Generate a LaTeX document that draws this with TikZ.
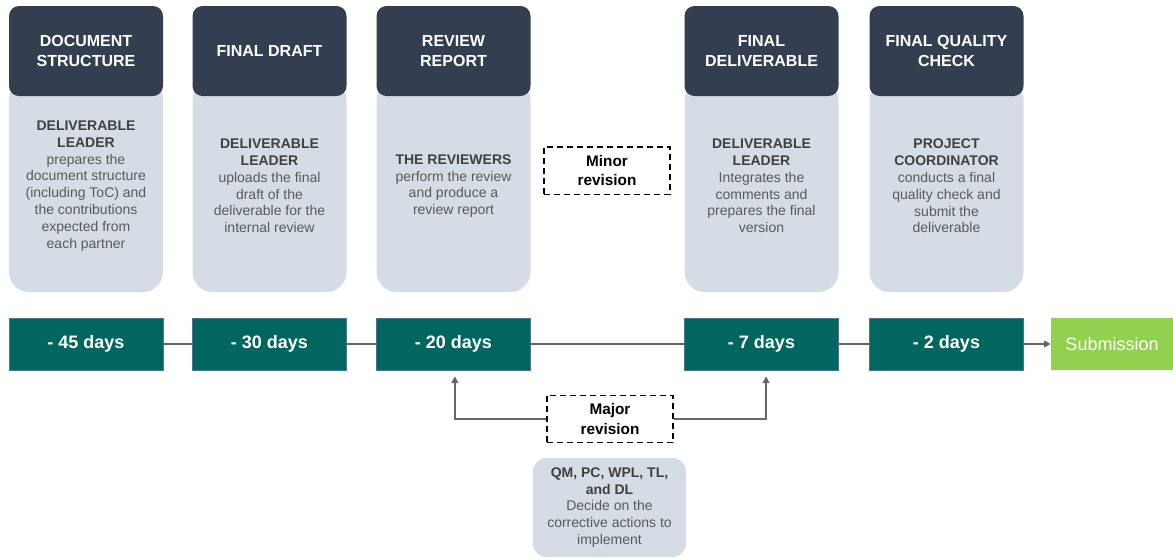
\documentclass[tikz,border=0pt]{standalone}
\usepackage{fontspec}
\setmainfont{Liberation Sans}
\usetikzlibrary{arrows.meta}
\definecolor{navy}{HTML}{333F50}
\definecolor{panel}{HTML}{D6DCE5}
\definecolor{tealbox}{HTML}{00665F}
\definecolor{tealedge}{HTML}{4A7394}
\definecolor{subgreen}{HTML}{92D050}
\definecolor{linegray}{HTML}{666666}
\definecolor{txtdark}{HTML}{404040}
\definecolor{txtmid}{HTML}{595959}
\begin{document}
\begin{tikzpicture}[x=0.75pt,y=-0.75pt,
  header/.style={fill=navy, rounded corners=7.5pt, minimum width=115.5pt, minimum height=67.5pt,
    inner sep=0pt, text=white, align=center, font=\fontsize{12}{15}\selectfont\bfseries},
  panelbox/.style={fill=panel, rounded corners=15pt, minimum width=115.5pt, minimum height=159pt,
    inner sep=0pt, align=center, text=txtmid, font=\fontsize{10.5}{12.6}\selectfont},
  daybox/.style={fill=tealbox, draw=tealedge, line width=0.5pt, minimum width=115.5pt, minimum height=39pt,
    inner sep=0pt, text=white, font=\fontsize{13.5}{16}\selectfont\bfseries},
  subbox/.style={fill=subgreen, minimum width=91.5pt, minimum height=39pt,
    inner sep=0pt, text=white, font=\fontsize{13.5}{16}\selectfont},
  revbox/.style={draw=black, dashed, dash pattern=on 4.5pt off 3pt, line width=1pt, minimum width=94.5pt, minimum height=35.5pt,
    inner sep=0pt, align=center, text=black, font=\fontsize{11.5}{14.5}\selectfont\bfseries},
  qmbox/.style={fill=panel, rounded corners=10pt, minimum width=114.75pt, minimum height=74.25pt,
    inner sep=0pt, align=center, text=txtmid, font=\fontsize{10.5}{12.6}\selectfont},
  conn/.style={draw=linegray, line width=1.5pt},
  tip/.style={-{Triangle[length=5pt,width=5pt]}}
]
\useasboundingbox (0,0) rectangle (1173,558);

% panels
\node[panelbox] (p1) at (86,186) {\textcolor{txtdark}{\bfseries DELIVERABLE}\\\textcolor{txtdark}{\bfseries LEADER}\\prepares the\\document structure\\(including ToC) and\\the contributions\\expected from\\each partner};
\node[panelbox] (p2) at (269.5,186) {\textcolor{txtdark}{\bfseries DELIVERABLE}\\\textcolor{txtdark}{\bfseries LEADER}\\uploads the final\\draft of the\\deliverable for the\\internal review};
\node[panelbox] (p3) at (453.5,186) {\textcolor{txtdark}{\bfseries THE REVIEWERS}\\perform the review\\and produce a\\review report};
\node[panelbox] (p4) at (761.5,186) {\textcolor{txtdark}{\bfseries DELIVERABLE}\\\textcolor{txtdark}{\bfseries LEADER}\\Integrates the\\comments and\\prepares the final\\version};
\node[panelbox] (p5) at (946.5,186) {\textcolor{txtdark}{\bfseries PROJECT}\\\textcolor{txtdark}{\bfseries COORDINATOR}\\conducts a final\\quality check and\\submit the\\deliverable};

% headers
\node[header] (h1) at (86,51) {DOCUMENT\\STRUCTURE};
\node[header] (h2) at (269.5,51) {FINAL DRAFT};
\node[header] (h3) at (453.5,51) {REVIEW\\REPORT};
\node[header] (h4) at (761.5,51) {FINAL\\DELIVERABLE};
\node[header] (h5) at (946.5,51) {FINAL QUALITY\\CHECK};

% timeline
\node[daybox] (t1) at (86,344) {- 45 days};
\node[daybox] (t2) at (269.5,344) {- 30 days};
\node[daybox] (t3) at (453.5,344) {- 20 days};
\node[daybox] (t4) at (761.5,344) {- 7 days};
\node[daybox] (t5) at (946.5,344) {- 2 days};
\node[subbox] (sub) at (1112,344) {Submission};

% revisions
\node[revbox] (minor) at (607,170.5) {Minor\\revision};
\node[revbox] (major) at (610,419) {Major\\revision};
\node[qmbox] (qm) at (609.5,507.5) {\textcolor{txtdark}{\bfseries QM, PC, WPL, TL,}\\\textcolor{txtdark}{\bfseries and DL}\\Decide on the\\corrective actions to\\implement};

% connectors
\draw[conn] (t1) -- (t2);
\draw[conn] (t2) -- (t3);
\draw[conn] (t3) -- (t4);
\draw[conn] (t4) -- (t5);
\draw[conn,tip] (t5) -- (sub);
\draw[conn,tip,shorten >=4.5pt] (major.west) -| ([xshift=1pt]t3.south);
\draw[conn,tip,shorten >=4.5pt] (major.east) -| ([xshift=3.4pt]t4.south);
\end{tikzpicture}
\end{document}
